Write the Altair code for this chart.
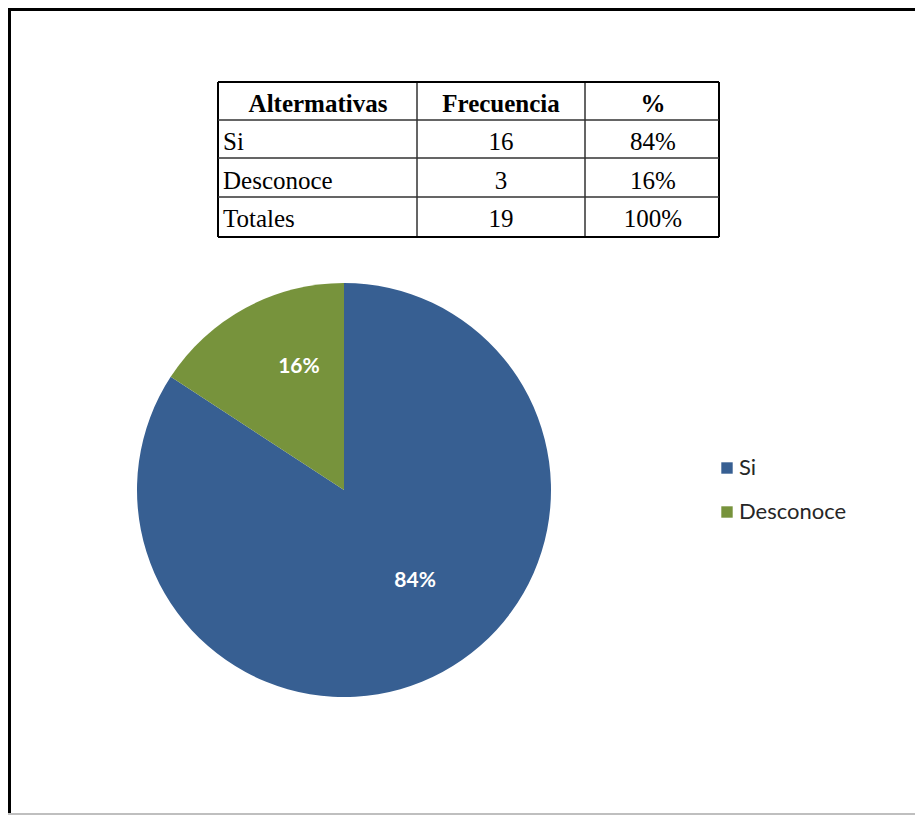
import altair as alt
import pandas as pd

# ---- data ----
encabezados = ["Altermativas", "Frecuencia", "%"]
alternativas = ["Si", "Desconoce", "Totales"]
frecuencia = [16, 3, 19]
porcentaje = ["84%", "16%", "100%"]

pie_categorias = ["Si", "Desconoce"]
pie_valores = [16, 3]
pie_etiquetas = ["84%", "16%"]

# ---- layout / style ----
W, H = 907, 807
BLUE = "#375F92"
GREEN = "#77933C"
CX, CY, R = 336, 482, 207

pie_df = pd.DataFrame({
    "cat": pie_categorias,
    "val": pie_valores,
    "lab": pie_etiquetas,
    "idx": list(range(len(pie_categorias))),
})

cells = []
for i, h in enumerate(encabezados):
    cells.append({"row": 0, "col": i, "text": h})
for r, (a, f, p) in enumerate(zip(alternativas, frecuencia, porcentaje), start=1):
    cells.append({"row": r, "col": 0, "text": a})
    cells.append({"row": r, "col": 1, "text": str(f)})
    cells.append({"row": r, "col": 2, "text": p})
cells_df = pd.DataFrame(cells)

yscale = alt.Scale(domain=[0, 3], range=[104, 219], nice=False, zero=False)

col_x_header = [310, 493, 645]
col_x_body = [215, 493, 645]
col_align_body = ["left", "center", "center"]
TABLE_FS = 25

layers = []

# frame
layers.append(alt.Chart(pie_df).mark_rule(color="black", strokeWidth=3).encode(
    x=alt.value(0), x2=alt.value(W), y=alt.value(1.5)))
layers.append(alt.Chart(pie_df).mark_rule(color="black", strokeWidth=3).encode(
    x=alt.value(1.5), y=alt.value(0), y2=alt.value(H)))
layers.append(alt.Chart(pie_df).mark_rule(color="#BFBFBF", strokeWidth=2).encode(
    x=alt.value(0), x2=alt.value(W), y=alt.value(H - 1)))

# table grid
TX = [210, 409, 577, 711]
TY = [74, 112, 150, 189, 229]
for i, xv in enumerate(TX):
    outer = i in (0, len(TX) - 1)
    layers.append(alt.Chart(pie_df).mark_rule(color="black" if outer else "#333333",
                                               strokeWidth=2 if outer else 1).encode(
        x=alt.value(xv), y=alt.value(TY[0]), y2=alt.value(TY[-1])))
for j, yv in enumerate(TY):
    outer = j in (0, len(TY) - 1)
    layers.append(alt.Chart(pie_df).mark_rule(color="black" if outer else "#333333",
                                               strokeWidth=2 if outer else 1).encode(
        x=alt.value(TX[0]), x2=alt.value(TX[-1]), y=alt.value(yv)))

# table text
for c in range(3):
    layers.append(
        alt.Chart(cells_df)
        .transform_filter(f"datum.row == 0 && datum.col == {c}")
        .mark_text(font="Liberation Serif", fontSize=TABLE_FS, fontWeight="bold",
                   baseline="alphabetic", align="center", color="black")
        .encode(x=alt.value(col_x_header[c]),
                y=alt.Y("row:Q", scale=yscale, axis=None),
                text="text:N")
    )
    layers.append(
        alt.Chart(cells_df)
        .transform_filter(f"datum.row > 0 && datum.col == {c}")
        .mark_text(font="Liberation Serif", fontSize=TABLE_FS,
                   baseline="alphabetic", align=col_align_body[c], color="black")
        .encode(x=alt.value(col_x_body[c]),
                y=alt.Y("row:Q", scale=yscale, axis=None),
                text="text:N")
    )

# pie
arc = alt.Chart(pie_df).mark_arc(radius=R).encode(
    theta=alt.Theta("val:Q", stack=True),
    color=alt.Color(
        "cat:N",
        scale=alt.Scale(domain=pie_categorias, range=[BLUE, GREEN]),
        sort=pie_categorias,
        legend=alt.Legend(
            title=None, orient="none", legendX=708, legendY=449,
            symbolType="square", symbolSize=130, symbolStrokeWidth=0,
            labelFont="Lato", labelFontSize=22, labelColor="#262626",
            rowPadding=22, labelOffset=1, padding=0,
        ),
    ),
    order=alt.Order("idx:Q"),
    x=alt.value(CX),
    y=alt.value(CY),
)
layers.append(arc)

labels = alt.Chart(pie_df).mark_text(
    radius=122, dx=13, dy=-16, font="Lato", fontSize=21, fontWeight="bold", color="white"
).encode(
    theta=alt.Theta("val:Q", stack=True),
    order=alt.Order("idx:Q"),
    text="lab:N",
    x=alt.value(CX),
    y=alt.value(CY),
)
layers.append(labels)

chart = (
    alt.layer(*layers)
    .properties(width=W, height=H, autosize=alt.AutoSizeParams(type="none"), padding=0)
    .configure_view(stroke=None)
)

chart.save("out.html", embed_options={"renderer": "svg", "actions": False})
